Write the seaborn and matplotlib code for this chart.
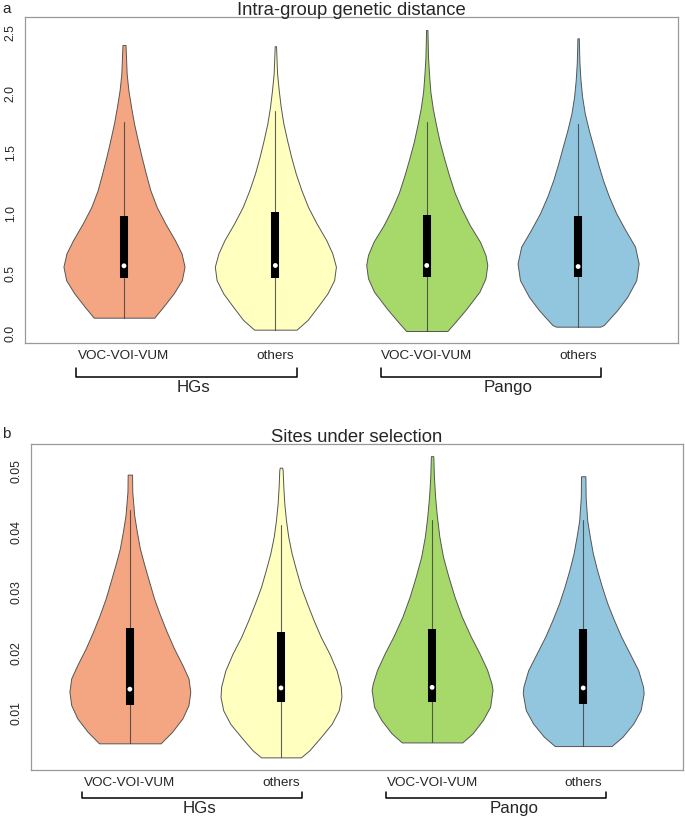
import numpy as np
import pandas as pd
import seaborn as sns
import matplotlib.pyplot as plt
from matplotlib.transforms import blended_transform_factory


groups = ['VOC-VOI-VUM', 'others', 'VOC-VOI-VUM', 'others']
colors = ['#F4A582', '#FFFFBF', '#A6D96A', '#92C5DE']

# ---- panel a: intra-group genetic distance ----
# density profiles, top (max) to bottom (min); width relative to widest violin
dist_y_voc_hg = [2.40, 2.16, 2.025, 1.886, 1.747, 1.608, 1.469, 1.33, 1.19, 1.05, 0.914, 0.775, 0.664, 0.553, 0.44, 0.33, 0.22, 0.128]
dist_w_voc_hg = [0.025, 0.044, 0.072, 0.116, 0.165, 0.226, 0.29, 0.36, 0.435, 0.54, 0.68, 0.84, 0.95, 1.0, 0.955, 0.82, 0.65, 0.50]
dist_y_oth_hg = [2.39, 2.164, 2.025, 1.886, 1.747, 1.608, 1.469, 1.33, 1.19, 1.05, 0.914, 0.775, 0.664, 0.553, 0.44, 0.33, 0.22, 0.108, 0.028]
dist_w_oth_hg = [0.011, 0.028, 0.055, 0.088, 0.132, 0.193, 0.26, 0.336, 0.43, 0.54, 0.68, 0.84, 0.94, 1.0, 0.97, 0.86, 0.70, 0.53, 0.35]
dist_y_voc_pg = [2.525, 2.29, 2.15, 2.01, 1.87, 1.73, 1.59, 1.45, 1.31, 1.17, 1.04, 0.90, 0.76, 0.65, 0.567, 0.456, 0.344, 0.205, 0.094, 0.017]
dist_w_voc_pg = [0.011, 0.022, 0.039, 0.06, 0.10, 0.155, 0.215, 0.29, 0.37, 0.46, 0.57, 0.71, 0.88, 0.97, 1.0, 0.97, 0.87, 0.66, 0.475, 0.34]
dist_y_oth_pg = [2.456, 2.25, 2.11, 1.97, 1.83, 1.69, 1.55, 1.41, 1.275, 1.136, 0.997, 0.858, 0.72, 0.58, 0.44, 0.30, 0.19, 0.067, 0.053]
dist_w_oth_pg = [0.011, 0.022, 0.039, 0.066, 0.11, 0.177, 0.254, 0.33, 0.41, 0.51, 0.63, 0.78, 0.94, 1.0, 0.96, 0.81, 0.645, 0.425, 0.365]

dist_q1 = [0.455, 0.457, 0.463, 0.466]
dist_med = [0.56, 0.563, 0.563, 0.554]
dist_q3 = [0.975, 1.01, 0.985, 0.976]
dist_whi = [1.76, 1.85, 1.76, 1.74]

# ---- panel b: sites under selection ----
sel_y_voc_hg = [0.04945, 0.04658, 0.04273, 0.03998, 0.03723, 0.03448, 0.03172, 0.02898, 0.02622, 0.02347, 0.02073, 0.01797, 0.01578, 0.01357, 0.01137, 0.00918, 0.00697, 0.00505]
sel_w_voc_hg = [0.036, 0.04, 0.072, 0.116, 0.166, 0.24, 0.32, 0.40, 0.50, 0.61, 0.73, 0.87, 0.97, 1.0, 0.97, 0.87, 0.70, 0.51]
sel_y_oth_hg = [0.0506, 0.0502, 0.0474, 0.0447, 0.0419, 0.0392, 0.0364, 0.0337, 0.0309, 0.0282, 0.0254, 0.0226, 0.0199, 0.0171, 0.0144, 0.0127, 0.0105, 0.0083, 0.0061, 0.0039, 0.00273]
sel_w_oth_hg = [0.02, 0.028, 0.039, 0.055, 0.083, 0.12, 0.177, 0.25, 0.33, 0.43, 0.54, 0.66, 0.80, 0.92, 0.99, 1.0, 0.955, 0.84, 0.66, 0.47, 0.33]
sel_y_voc_pg = [0.0525, 0.0491, 0.0458, 0.0425, 0.0392, 0.0359, 0.0326, 0.0293, 0.0260, 0.0227, 0.0200, 0.0172, 0.0150, 0.0139, 0.0111, 0.0089, 0.0067, 0.0052]
sel_w_voc_pg = [0.02, 0.03, 0.05, 0.08, 0.12, 0.18, 0.27, 0.37, 0.49, 0.64, 0.78, 0.91, 0.98, 1.0, 0.96, 0.84, 0.67, 0.50]
sel_y_oth_pg = [0.04918, 0.04576, 0.04191, 0.03916, 0.0364, 0.03365, 0.0309, 0.02815, 0.0254, 0.02264, 0.01989, 0.01714, 0.01439, 0.01329, 0.01054, 0.00834, 0.00614, 0.0046]
sel_w_oth_pg = [0.036, 0.04, 0.066, 0.11, 0.16, 0.23, 0.31, 0.40, 0.51, 0.63, 0.77, 0.91, 0.99, 1.0, 0.95, 0.83, 0.65, 0.47]

sel_q1 = [0.01137, 0.0118, 0.0118, 0.0116]
sel_med = [0.0140, 0.0142, 0.0143, 0.0142]
sel_q3 = [0.0241, 0.0235, 0.0239, 0.0239]
sel_whi = [0.04356, 0.0411, 0.0419, 0.0419]


sns.set_style("white")
plt.rcParams['font.family'] = ['Liberation Sans', 'DejaVu Sans']


def draw_panel(ax, profiles, q1, med, q3, whi, title, yticks, ylabels, ylim):
    positions = [1, 2, 3, 4]
    for pos, (ys, ws), col in zip(positions, profiles, colors):
        ys = np.array(ys)
        half = 0.4 * np.array(ws)
        ax.fill_betweenx(ys, pos - half, pos + half, facecolor=col,
                         edgecolor='#555555', lw=0.7, zorder=1)
    lows = [min(p[0]) for p in profiles]
    for i, pos in enumerate(positions):
        ax.plot([pos, pos], [lows[i], whi[i]], color='#3a3a3a', lw=0.8, alpha=0.8, zorder=2)
        ax.plot([pos, pos], [q1[i], q3[i]], color='black', lw=5.8,
                solid_capstyle='butt', zorder=3)
    med_df = pd.DataFrame({'pos': positions, 'median': med})
    sns.scatterplot(data=med_df, x='pos', y='median', color='white', s=12,
                    edgecolor='none', ax=ax, zorder=4, legend=False)

    ax.set_xlim(0.346, 4.66)
    ax.set_ylim(*ylim)
    ax.set_xticks(positions)
    ax.set_xticklabels(groups, fontsize=9.7)
    ax.set_yticks(yticks)
    ax.set_yticklabels(ylabels, fontsize=8.8, rotation=90, va='center')
    ax.set_xlabel('')
    ax.set_ylabel('')
    ax.tick_params(axis='x', length=3.5, pad=1.5, color='#888888', width=0.7)
    ax.tick_params(axis='y', length=3, pad=3, color='#888888', width=0.7)
    for sp in ax.spines.values():
        sp.set_color('#999999')
        sp.set_linewidth(0.9)
    ax.set_title(title, fontsize=13.3, pad=1.5)


def draw_brackets(ax, ytick, yline, ylab):
    trans = blended_transform_factory(ax.transData, ax.transAxes)
    for x0, x1, xl, lab in [(0.685, 2.14, 1.46, 'HGs'), (2.695, 4.15, 3.54, 'Pango')]:
        ax.plot([x0, x0, x1, x1], [ytick, yline, yline, ytick], transform=trans,
                clip_on=False, color='black', lw=1.1)
        ax.text(xl, ylab, lab, transform=trans, ha='center', va='center', fontsize=12.2)


fig = plt.figure(figsize=(6.85, 8.19), dpi=100)
ax_a = fig.add_axes([0.0365, 0.5812, 0.9533, 0.398])
ax_b = fig.add_axes([0.0453, 0.0598, 0.9517, 0.398])

draw_panel(ax_a,
           [(dist_y_voc_hg, dist_w_voc_hg), (dist_y_oth_hg, dist_w_oth_hg),
            (dist_y_voc_pg, dist_w_voc_pg), (dist_y_oth_pg, dist_w_oth_pg)],
           dist_q1, dist_med, dist_q3, dist_whi, 'Intra-group genetic distance',
           [0, 0.5, 1.0, 1.5, 2.0, 2.5], ['0.0', '0.5', '1.0', '1.5', '2.0', '2.5'],
           (-0.083, 2.633))
draw_brackets(ax_a, -0.077, -0.104, -0.138)

draw_panel(ax_b,
           [(sel_y_voc_hg, sel_w_voc_hg), (sel_y_oth_hg, sel_w_oth_hg),
            (sel_y_voc_pg, sel_w_voc_pg), (sel_y_oth_pg, sel_w_oth_pg)],
           sel_q1, sel_med, sel_q3, sel_whi, 'Sites under selection',
           [0.01, 0.02, 0.03, 0.04, 0.05], ['0.01', '0.02', '0.03', '0.04', '0.05'],
           (0.00064, 0.0545))
draw_brackets(ax_b, -0.067, -0.086, -0.117)

fig.text(0.003, 0.997, 'a', va='top', ha='left', fontsize=11)
fig.text(0.003, 1 - 427 / 819, 'b', va='top', ha='left', fontsize=11)

plt.savefig('out.png', dpi=100)
